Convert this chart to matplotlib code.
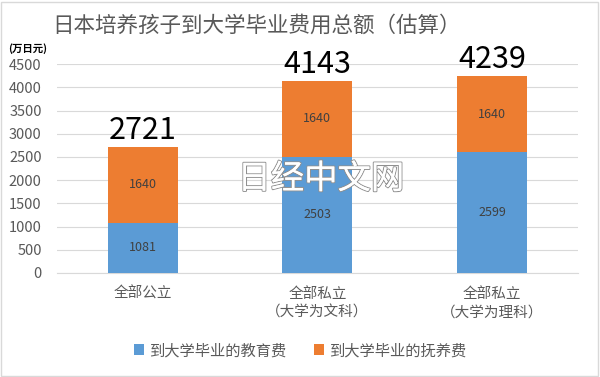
import matplotlib.pyplot as plt
import matplotlib.patheffects as pe
from matplotlib.patches import Rectangle

plt.rcParams['font.family'] = ['Noto Sans CJK SC', 'DejaVu Sans']

categories = ['全部公立', '全部私立\n（大学为文科）', '全部私立\n（大学为理科）']
education = [1081, 2503, 2599]
upbringing = [1640, 1640, 1640]
totals = [2721, 4143, 4239]
series_names = ['到大学毕业的教育费', '到大学毕业的抚养费']

blue = '#5B9BD5'
orange = '#ED7D31'
grey = '#595959'

fig = plt.figure(figsize=(6, 3.77), dpi=100)
ax = fig.add_axes([0.095, 0.276, 0.868, 0.554])

x = range(len(categories))
b1 = ax.bar(x, education, width=0.4, color=blue, label=series_names[0], zorder=3)
b2 = ax.bar(x, upbringing, width=0.4, bottom=education, color=orange,
            label=series_names[1], zorder=3)

for i in x:
    ax.text(i, education[i] / 2, str(education[i]), ha='center', va='center',
            fontsize=9, color='#404040', zorder=4)
    ax.text(i, education[i] + upbringing[i] / 2, str(upbringing[i]), ha='center',
            va='center', fontsize=9, color='#404040', zorder=4)
    ax.text(i, totals[i] + 20, str(totals[i]), ha='center', va='bottom',
            fontsize=22, color='black', zorder=4)

ax.set_xlim(-0.49, 2.49)
ax.set_ylim(0, 4500)
ax.set_yticks(range(0, 4501, 500))
ax.set_xticks(list(x))
ax.set_xticklabels(categories, fontsize=10.5, color=grey, linespacing=1.45)
ax.tick_params(axis='y', labelsize=10.5, labelcolor=grey, length=0, pad=11)
ax.tick_params(axis='x', length=0, pad=10)
ax.grid(axis='y', color='#D9D9D9', linewidth=0.8, zorder=0)
for s in ['top', 'right', 'left']:
    ax.spines[s].set_visible(False)
ax.spines['bottom'].set_color('#D9D9D9')

fig.text(0.428, 0.933, '日本培养孩子到大学毕业费用总额（估算）', ha='center', va='center',
         fontsize=15.5, color=grey)
fig.text(0.013, 0.872, '(万日元)', ha='left', va='center', fontsize=7.5,
         color='black', fontweight='bold')

fig.legend(handles=[b1, b2], loc='center', bbox_to_anchor=(0.5, 0.07), ncol=2,
           frameon=False, fontsize=11, labelcolor=grey, handlelength=0.7,
           handleheight=0.7, handletextpad=0.3, columnspacing=1.8)

# watermark
fig.text(0.535, 0.525, '日经中文网', ha='center', va='center', fontsize=24,
         color='white', zorder=10,
         path_effects=[pe.withStroke(linewidth=1.5, foreground='#909090'),
                       pe.Normal()])

fig.patches.append(Rectangle((0.002, 0.003), 0.995, 0.993, transform=fig.transFigure,
                             fill=False, edgecolor='#D9D9D9', linewidth=1))

fig.savefig('out.png', dpi=100)
